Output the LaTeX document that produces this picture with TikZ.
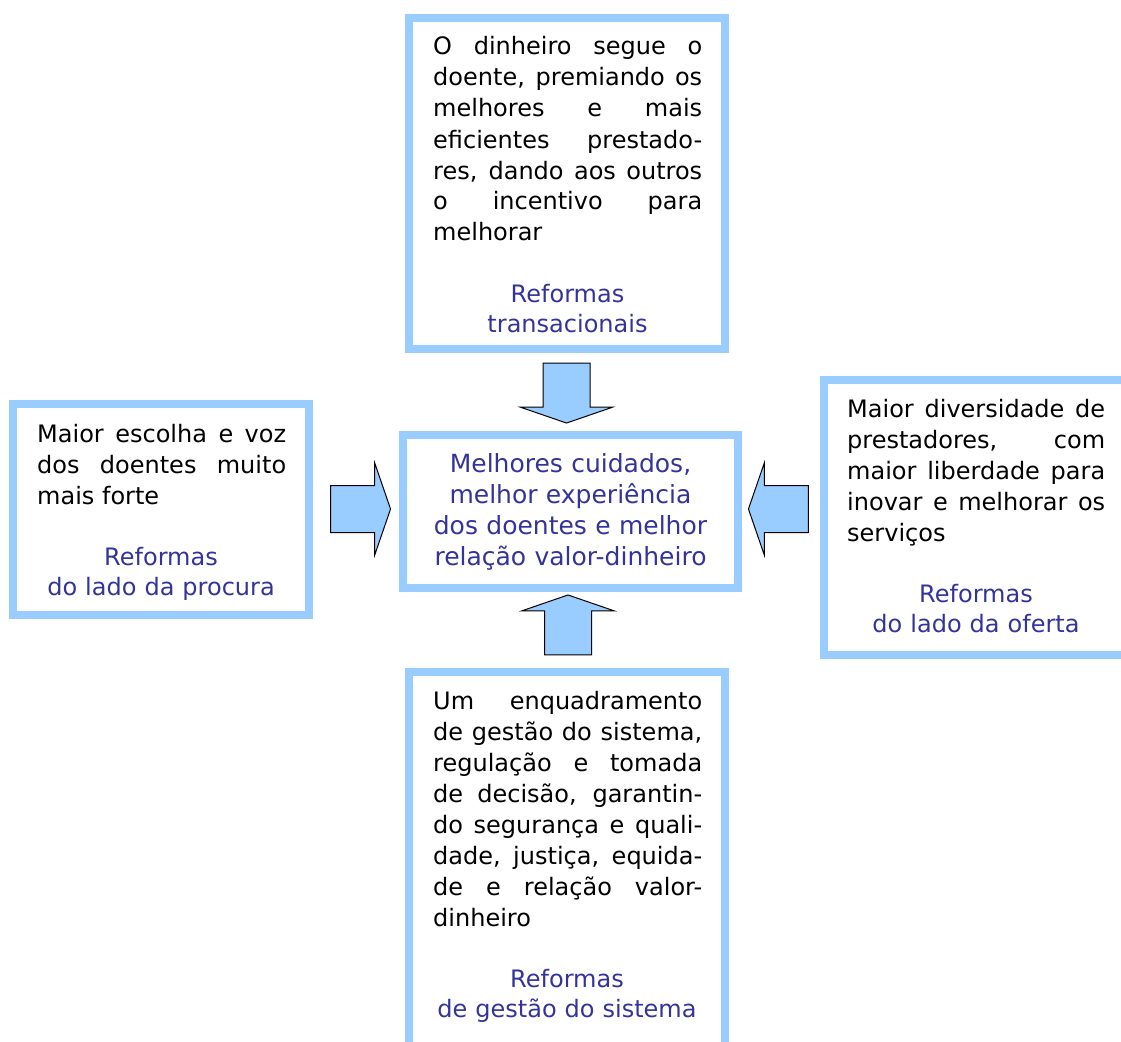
\documentclass[tikz,border=0pt]{standalone}
\usepackage{fontspec}
\setmainfont{DejaVu Sans}
\usetikzlibrary{shapes.arrows}
\definecolor{frameblue}{HTML}{99CCFF}
\definecolor{titleblue}{HTML}{333399}

% justified lines are broken by hand only
\tolerance=10000
\hbadness=10000
\hyphenpenalty=10000

\tikzset{
  boxframe/.style={draw=frameblue, line width=8pt, inner sep=0pt, outer sep=0pt},
  bodytext/.style={anchor=base west, inner sep=0pt, align=justify,
    font=\fontsize{24}{31}\selectfont},
  titletext/.style={anchor=base, inner sep=0pt, align=center, text=titleblue,
    font=\fontsize{24}{30.5}\selectfont},
  blockarrow/.style={single arrow, draw=black, line width=1pt, fill=frameblue,
    inner xsep=0pt, inner ysep=23pt, single arrow head extend=22.5pt,
    single arrow tip angle=142, minimum height=60pt},
}

\begin{document}
\begin{tikzpicture}[x=1pt,y=-1pt]
\useasboundingbox (0,0) rectangle (1121,1041);
\clip (0,0) rectangle (1121,1041);

% frames
\node[boxframe, minimum width=316pt, minimum height=331pt] (T) at (567,183.5) {};
\node[boxframe, minimum width=335pt, minimum height=153.5pt] (C) at (570.5,511.25) {};
\node[boxframe, minimum width=296pt, minimum height=211pt] (L) at (161,509.5) {};
\node[boxframe, minimum width=320pt, minimum height=274.5pt] (R) at (983.5,517.25) {};
\node[boxframe, minimum width=316pt, minimum height=400pt] (B) at (567,872) {};

% top: transactional reforms
\node[bodytext, text width=269pt] (Tbody) at (433,55)
  {O dinheiro segue o\linebreak doente, premiando os\linebreak melhores e mais\linebreak
   eficientes prestado-\linebreak res, dando aos outros\linebreak o incentivo para\linebreak melhorar};
\node[titletext, text width=269pt] (Ttitle) at (567.5,302) {Reformas\\transacionais};

% centre: outcome
\node[titletext, text width=320pt, font=\fontsize{25}{31}\selectfont] (Ctxt) at (570.5,472)
  {Melhores cuidados,\\melhor experiência\\dos doentes e melhor\\relação valor-dinheiro};

% left: demand side
\node[bodytext, text width=249pt] (Lbody) at (37,442)
  {Maior escolha e voz\linebreak dos doentes muito\linebreak mais forte};
\node[titletext, text width=249pt] (Ltitle) at (161,565) {Reformas\\do lado da procura};

% right: supply side
\node[bodytext, text width=258pt] (Rbody) at (847,417)
  {Maior diversidade de\linebreak prestadores, com\linebreak maior liberdade para\linebreak
   inovar e melhorar os\linebreak serviços};
\node[titletext, text width=258pt] (Rtitle) at (976,602) {Reformas\\do lado da oferta};

% bottom: system management
\node[bodytext, text width=269pt] (Bbody) at (433,709)
  {Um enquadramento\linebreak de gestão do sistema,\linebreak regulação e tomada\linebreak
   de decisão, garantin-\linebreak do segurança e quali-\linebreak dade, justiça, equida-\linebreak
   de e relação valor-\linebreak dinheiro};
\node[titletext, text width=269pt] (Btitle) at (567,987) {Reformas\\de gestão do sistema};

% block arrows pointing to the centre
\node[blockarrow, rotate=-90] (aT) at (566.5,389) {};
\node[blockarrow, rotate=90]  (aB) at (568,629) {};
\node[blockarrow]             (aL) at (356.5,509) {};
\node[blockarrow, rotate=180] (aR) at (782.5,509) {};
\end{tikzpicture}
\end{document}
